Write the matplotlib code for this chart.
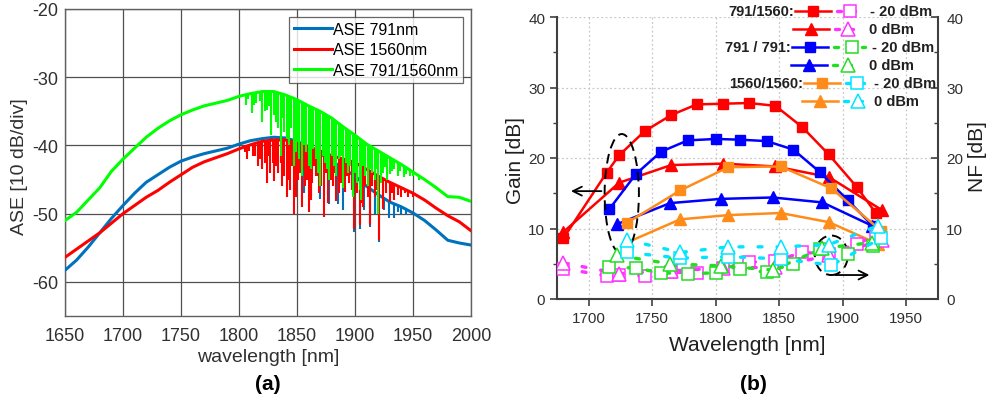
import matplotlib
matplotlib.use("Agg")
import matplotlib.pyplot as plt
from matplotlib.lines import Line2D
from matplotlib.patches import Ellipse
from matplotlib.ticker import MultipleLocator

plt.rcParams['font.family'] = ['Liberation Sans', 'DejaVu Sans']
plt.rcParams['axes.unicode_minus'] = False

# ---------------- (a) ASE spectra ----------------
wl_env = [1650, 1660, 1670, 1680, 1690, 1700, 1710, 1720, 1730, 1740, 1750, 1760, 1770,
          1780, 1790, 1800, 1810, 1820, 1830, 1840, 1850, 1860, 1870, 1880, 1890, 1900,
          1910, 1920, 1930, 1940, 1950, 1960, 1970, 1980, 1990, 2000]
ase_791 = [-58.3, -56.8, -54.9, -52.8, -50.7, -48.8, -47.0, -45.4, -44.3, -43.2, -42.3,
           -41.7, -41.2, -40.8, -40.4, -39.8, -39.3, -39.0, -38.8, -38.9, -39.4, -40.2,
           -41.2, -42.3, -43.4, -44.5, -46.0, -47.2, -48.3, -49.0, -49.9, -51.0, -52.4,
           -53.9, -54.3, -54.6]
ase_1560 = [-56.4, -55.2, -54.0, -52.8, -51.4, -50.0, -48.8, -47.6, -46.6, -45.4, -44.3,
            -43.2, -42.4, -41.8, -41.2, -40.5, -39.9, -39.4, -39.2, -39.2, -39.6, -40.2,
            -40.8, -41.5, -42.0, -42.5, -43.5, -44.5, -45.4, -46.2, -47.0, -48.0, -49.2,
            -50.3, -51.2, -52.5]
ase_dual = [-51.0, -49.8, -48.0, -46.2, -43.8, -42.0, -40.4, -38.8, -37.5, -36.4, -35.5,
            -34.8, -34.2, -33.8, -33.4, -32.8, -32.4, -32.1, -32.1, -32.6, -33.3, -34.2,
            -35.0, -36.0, -37.3, -38.5, -39.8, -40.8, -41.8, -42.8, -43.9, -45.0, -46.2,
            -47.5, -47.6, -48.2]

# absorption dips: wavelength, top of dip, bottom of dip
dip_dual_wl = [1806, 1811, 1815, 1820, 1824, 1828, 1832, 1836, 1839, 1843, 1847, 1850,
               1854, 1858, 1862, 1866, 1870, 1874, 1878, 1882, 1886, 1890, 1894, 1898,
               1902, 1905, 1909, 1913, 1917, 1920, 1924, 1928, 1932, 1937, 1942, 1947,
               1808, 1813, 1818, 1822, 1826, 1830, 1834, 1838, 1841, 1845, 1849, 1852,
               1856, 1860, 1864, 1868, 1872, 1876, 1880, 1884, 1888, 1892, 1896, 1900,
               1904, 1907, 1911, 1915, 1919, 1922, 1926, 1930, 1934, 1939, 1944, 1950, 1955]
dip_dual_top = [-32.6, -32.4, -32.3, -32.1, -32.1, -32.1, -32.2, -32.4, -32.5, -32.8,
                -33.1, -33.3, -33.6, -34.0, -34.4, -34.7, -35.0, -35.4, -35.8, -36.2,
                -36.8, -37.3, -37.8, -38.3, -38.8, -39.2, -39.7, -40.1, -40.5, -40.8,
                -41.2, -41.6, -42.0, -42.5, -43.0, -43.5,
                -32.5, -32.3, -32.2, -32.1, -32.1, -32.1, -32.3, -32.5, -32.7, -32.9,
                -33.2, -33.4, -33.8, -34.2, -34.6, -34.9, -35.2, -35.6, -36.0, -36.5,
                -37.0, -37.5, -38.0, -38.5, -39.0, -39.4, -39.9, -40.3, -40.7, -41.0,
                -41.4, -41.8, -42.2, -42.7, -43.2, -43.9, -44.4]
dip_dual_low = [-34.0, -35.2, -33.8, -36.6, -34.8, -38.5, -36.5, -41.5, -38.0, -40.0,
                -43.0, -39.5, -44.5, -41.0, -43.5, -42.0, -46.0, -42.5, -45.0, -43.0,
                -42.0, -46.3, -44.0, -47.5, -45.5, -48.0, -44.5, -43.5, -45.0, -50.0,
                -44.0, -45.0, -43.8, -44.5, -44.6, -44.5,
                -33.2, -34.0, -33.5, -35.0, -34.2, -35.5, -37.5, -36.0, -39.0, -37.5,
                -41.0, -42.0, -40.0, -43.0, -40.5, -44.0, -41.5, -43.5, -41.5, -44.5,
                -41.5, -42.5, -43.0, -44.0, -46.5, -43.0, -46.0, -44.0, -43.5, -45.5,
                -43.2, -44.2, -43.5, -43.8, -44.2, -44.5, -45.0]

dip_1560_wl = [1807, 1812, 1816, 1820, 1824, 1827, 1830, 1834, 1837, 1841, 1844, 1847,
               1851, 1854, 1857, 1860, 1863, 1866, 1869, 1873, 1877, 1881, 1884, 1888,
               1891, 1895, 1899, 1904, 1907, 1913, 1917, 1921, 1924, 1930, 1934, 1940, 1946,
               1805, 1809, 1814, 1818, 1822, 1826, 1829, 1832, 1836, 1839, 1843, 1846,
               1849, 1853, 1856, 1859, 1862, 1865, 1868, 1871, 1875, 1879, 1883, 1886,
               1890, 1893, 1897, 1902, 1905, 1909, 1911, 1915, 1919, 1927, 1932, 1937,
               1943, 1950]
dip_1560_top = [-39.9, -39.8, -39.6, -39.4, -39.3, -39.3, -39.2, -39.2, -39.2, -39.2,
                -39.3, -39.4, -39.6, -39.8, -40.0, -40.2, -40.4, -40.6, -40.7, -40.9,
                -41.2, -41.4, -41.6, -41.9, -42.1, -42.3, -42.5, -43.0, -43.2, -43.8,
                -44.2, -44.6, -44.9, -45.4, -45.7, -46.2, -46.7,
                -40.0, -39.9, -39.7, -39.5, -39.4, -39.3, -39.2, -39.2, -39.2, -39.2,
                -39.2, -39.3, -39.5, -39.7, -39.9, -40.1, -40.3, -40.5, -40.7, -40.8,
                -41.0, -41.3, -41.5, -41.8, -42.0, -42.2, -42.4, -42.8, -43.1, -43.4,
                -43.6, -44.0, -44.4, -45.1, -45.5, -46.0, -46.4, -47.0]
dip_1560_low = [-42.0, -41.5, -43.0, -43.4, -45.5, -44.0, -45.2, -44.0, -46.0, -47.6,
                -46.5, -50.0, -45.0, -49.0, -46.0, -49.8, -45.5, -44.5, -47.0, -50.5,
                -48.5, -46.0, -48.1, -45.5, -46.8, -45.5, -52.2, -51.7, -49.0, -51.7,
                -47.5, -53.9, -49.3, -48.3, -48.0, -47.6, -47.6,
                -41.0, -40.8, -41.5, -42.0, -42.5, -41.5, -42.5, -43.0, -42.5, -44.5,
                -45.0, -43.0, -47.5, -44.0, -43.5, -45.0, -48.0, -43.0, -44.5, -46.0,
                -44.0, -45.0, -44.0, -47.0, -44.0, -44.5, -46.5, -47.0, -48.5, -46.0,
                -47.5, -46.0, -46.5, -47.0, -47.0, -47.2, -47.0, -47.5]

dip_791_wl = [1856, 1862, 1870, 1878, 1885, 1890, 1899, 1904, 1913, 1921, 1929, 1934,
              1940, 1944, 1908, 1917, 1925, 1937]
dip_791_top = [-40.0, -40.6, -41.2, -42.0, -42.8, -43.4, -44.4, -45.1, -46.3, -47.3,
               -48.2, -48.6, -49.0, -49.4, -45.6, -46.8, -47.7, -48.8]
dip_791_low = [-47.0, -47.5, -47.8, -48.6, -48.6, -49.5, -52.7, -52.2, -52.0, -54.2,
               -50.7, -50.7, -50.0, -50.2, -49.5, -50.0, -49.5, -49.8]

# ---------------- (b) gain / NF ----------------
wl_rs = [1680, 1714, 1724, 1744, 1765, 1785, 1806, 1826, 1847, 1868, 1889, 1911, 1926]
gain_rs = [8.6, 17.9, 20.4, 23.8, 26.1, 27.6, 27.7, 27.8, 27.4, 24.4, 20.5, 15.9, 12.2]
nf_rs = [4.3, 3.3, 3.4, 3.3, 3.8, 3.7, 4.4, 5.2, 5.4, 6.6, 6.4, 7.8, 9.0]

wl_rt = [1680, 1724, 1765, 1806, 1847, 1889, 1931]
gain_rt = [9.5, 16.5, 19.0, 19.2, 18.8, 17.3, 12.6]
nf_rt = [5.1, 3.6, 4.0, 4.4, 4.5, 6.2, 8.3]

wl_bs = [1716, 1737, 1757, 1778, 1800, 1819, 1840, 1861, 1882, 1904, 1924]
gain_bs = [12.7, 17.7, 20.9, 22.5, 22.7, 22.6, 22.4, 21.2, 18.0, 14.0, 10.3]
nf_bs = [4.5, 4.4, 3.7, 3.6, 3.7, 4.2, 3.8, 5.0, 7.1, 6.4, 7.5]

wl_bt = [1722, 1764, 1804, 1845, 1884, 1923]
gain_bt = [10.6, 13.6, 14.2, 14.4, 13.7, 10.4]
nf_bt = [6.2, 5.0, 4.7, 4.1, 7.2, 8.0]

wl_os = [1730, 1772, 1810, 1851, 1891, 1930]
gain_os = [10.8, 15.4, 18.7, 18.8, 15.7, 9.7]
nf_os = [6.6, 5.8, 6.0, 5.7, 4.8, 8.6]

wl_ot = [1730, 1772, 1810, 1851, 1889, 1928]
gain_ot = [8.0, 11.3, 11.9, 12.2, 10.9, 7.8]
nf_ot = [8.4, 6.6, 7.4, 7.4, 7.7, 10.4]

C_RED, C_BLUE, C_ORANGE = '#FF0000', '#0000FF', '#FF8C1A'
C_MAG, C_GRN, C_CYAN = '#FF33FF', '#22DD22', '#00E5FF'

W, H = 990, 410
fig = plt.figure(figsize=(9.9, 4.1), dpi=100)


def px_rect(l, t, r, b):
    return [l / W, 1 - b / H, (r - l) / W, (b - t) / H]


# ---------- panel (a) ----------
axa = fig.add_axes(px_rect(65, 10, 471, 317))
axa.set_xlim(1650, 2000)
axa.set_ylim(-65, -20)
axa.set_xticks(range(1650, 2001, 50))
axa.set_yticks([-60, -50, -40, -30, -20])
axa.grid(True, color='#505050', lw=0.9)
axa.set_axisbelow(True)
for sp in axa.spines.values():
    sp.set_color('#606060')
    sp.set_linewidth(1.0)
axa.tick_params(direction='in', length=0, labelsize=13, colors='#303030', pad=8)
axa.tick_params(axis='y', pad=5)

axa.plot(wl_env, ase_791, color='#0072BD', lw=2.2, zorder=3, label='ASE 791nm')
axa.vlines(dip_791_wl, dip_791_low, dip_791_top, color='#0072BD', lw=1.5, zorder=3)
axa.plot(wl_env, ase_1560, color=C_RED, lw=2.2, zorder=4, label='ASE 1560nm')
axa.vlines(dip_1560_wl, dip_1560_low, dip_1560_top, color=C_RED, lw=1.5, zorder=4)
axa.plot(wl_env, ase_dual, color='#00FF00', lw=2.2, zorder=5, label='ASE 791/1560nm')
axa.vlines(dip_dual_wl, dip_dual_low, dip_dual_top, color='#00FF00', lw=1.5, zorder=5)

leg = axa.legend(loc='upper right', fontsize=11.5, frameon=True, fancybox=False,
                 borderaxespad=0.5, handlelength=2.4, handletextpad=0.05,
                 borderpad=0.3, labelspacing=0.35)
leg.get_frame().set_edgecolor('#404040')
leg.get_frame().set_linewidth(0.9)

axa.set_xlabel('wavelength [nm]', fontsize=14, color='#303030')
axa.set_ylabel('ASE [10 dB/div]', fontsize=14, color='#303030')
axa.xaxis.set_label_coords(0.501, -0.105)
axa.yaxis.set_label_coords(-0.092, 0.49)

# ---------- panel (b) ----------
axb = fig.add_axes(px_rect(557, 18, 938, 300))
axb.set_xlim(1675, 1975)
axb.set_ylim(0, 40)
axb.set_xticks(range(1700, 1951, 50))
axb.set_yticks(range(0, 41, 10))
axb.yaxis.set_minor_locator(MultipleLocator(5))
axb.grid(True, which='major', color='#c8c8c8', ls=(0, (1.5, 2)), lw=0.9)
axb.set_axisbelow(True)
axb.spines['top'].set_visible(False)
axb.spines['right'].set_visible(False)
for s in ('left', 'bottom'):
    axb.spines[s].set_color('#404040')
    axb.spines[s].set_linewidth(1.5)
axb.tick_params(which='major', direction='out', length=5, width=1.2,
                labelsize=11, colors='#404040', labelcolor='#303030')
axb.tick_params(which='minor', direction='out', length=3, width=1.0, colors='#404040')

ax2 = axb.twinx()
ax2.set_ylim(0, 40)
ax2.set_yticks(range(0, 41, 10))
ax2.yaxis.set_minor_locator(MultipleLocator(5))
for s in ('top', 'left', 'bottom'):
    ax2.spines[s].set_visible(False)
ax2.spines['right'].set_color('#404040')
ax2.spines['right'].set_linewidth(1.5)
ax2.tick_params(which='major', direction='in', length=5, width=1.2,
                labelsize=11, colors='#404040', labelcolor='#303030', pad=6)
ax2.tick_params(which='minor', direction='in', length=3, width=1.0, colors='#404040')

gkw = dict(lw=1.8, markersize=7.5)
axb.plot(wl_rs, gain_rs, color=C_RED, marker='s', **gkw)
axb.plot(wl_rt, gain_rt, color=C_RED, marker='^', lw=1.8, markersize=9)
axb.plot(wl_bs, gain_bs, color=C_BLUE, marker='s', **gkw)
axb.plot(wl_bt, gain_bt, color=C_BLUE, marker='^', lw=1.8, markersize=9)
axb.plot(wl_os, gain_os, color=C_ORANGE, marker='s', **gkw)
axb.plot(wl_ot, gain_ot, color=C_ORANGE, marker='^', lw=1.8, markersize=9)

nls = (0, (1.2, 4.5))
nkw = dict(lw=2.4, ls=nls, dash_capstyle='round', markerfacecolor='white', markeredgewidth=1.1)
ax2.plot(wl_rs, nf_rs, color=C_MAG, marker='s', markersize=8, **nkw)
ax2.plot(wl_rt, nf_rt, color=C_MAG, marker='^', markersize=9.5, **nkw)
ax2.plot(wl_bs, nf_bs, color=C_GRN, marker='s', markersize=8, **nkw)
ax2.plot(wl_bt, nf_bt, color=C_GRN, marker='^', markersize=9.5, **nkw)
ax2.plot(wl_os, nf_os, color=C_CYAN, marker='s', markersize=8, **nkw)
ax2.plot(wl_ot, nf_ot, color=C_CYAN, marker='^', markersize=9.5, **nkw)

# guide ellipses and arrows
axb.add_patch(Ellipse((1726, 14.9), 27, 17, fill=False, ls=(0, (5, 3)), lw=1.4, color='black', zorder=6))
axb.add_patch(Ellipse((1891, 6.2), 26, 5.6, fill=False, ls=(0, (5, 3)), lw=1.4, color='black', zorder=6))
axb.annotate('', xy=(1686, 15.3), xytext=(1710, 15.3),
             arrowprops=dict(arrowstyle='->', lw=1.3, color='black', mutation_scale=16,
                             shrinkA=0, shrinkB=0))
axb.annotate('', xy=(1921, 3.4), xytext=(1894, 3.4), annotation_clip=False,
             arrowprops=dict(arrowstyle='->', lw=1.3, color='black', mutation_scale=16,
                             shrinkA=0, shrinkB=0))

axb.set_xlabel('Wavelength [nm]', fontsize=15, color='#202020')
axb.set_ylabel('Gain [dB]', fontsize=15, color='#202020')
ax2.set_ylabel('NF [dB]', fontsize=15, color='#202020')
axb.xaxis.set_label_coords(0.499, -0.128)
axb.yaxis.set_label_coords(-0.085, 0.496)
ax2.yaxis.set_label_coords(1.08, 0.51)

# custom legend for panel (b)
def fx(x):
    return x / W


def fy(y):
    return 1 - y / H


legend_rows = [
    # y, group label, filled x, open x, text x, gain color, nf color, marker, text
    (12, '791/1560:', 813, 850, 870, C_RED, C_MAG, 's', '- 20 dBm'),
    (30, None, 811, 848, 869, C_RED, C_MAG, '^', '0 dBm'),
    (48, '791 / 791:', 810, 852, 872, C_BLUE, C_GRN, 's', '- 20 dBm'),
    (66, None, 809, 848, 869, C_BLUE, C_GRN, '^', '0 dBm'),
    (84, '1560/1560:', 822, 857, 874, C_ORANGE, C_CYAN, 's', '- 20 dBm'),
    (102, None, 820, 858, 874, C_ORANGE, C_CYAN, '^', '0 dBm'),
]
for (yy, grp, xf, xo, xt, cg, cn, mk, txt) in legend_rows:
    ms_f = 7.5 if mk == 's' else 9
    ms_o = 8 if mk == 's' else 9.5
    fig.add_artist(Line2D([fx(xf - 18), fx(xf + 18)], [fy(yy), fy(yy)], color=cg, lw=1.8,
                          transform=fig.transFigure))
    fig.add_artist(Line2D([fx(xf)], [fy(yy)], color=cg, marker=mk, markersize=ms_f,
                          transform=fig.transFigure))
    fig.add_artist(Line2D([fx(xf + 24), fx(xo + 13)], [fy(yy), fy(yy)], color=cn, lw=2.4,
                          ls=(0, (1.2, 3.0)), dash_capstyle='round', transform=fig.transFigure))
    fig.add_artist(Line2D([fx(xo)], [fy(yy)], color=cn, marker=mk, markersize=ms_o,
                          markerfacecolor='white', markeredgewidth=1.1,
                          transform=fig.transFigure))
    fig.text(fx(xt), fy(yy), txt, fontsize=10.5, fontweight='bold', color='#202020',
             ha='left', va='center')
    if grp:
        fig.text(fx(xf - 19), fy(yy), grp, fontsize=10.5, fontweight='bold', color='#202020',
                 ha='right', va='center')

fig.text(268 / W, fy(385), '(a)', fontsize=15, fontweight='bold', ha='center', va='center')
fig.text(753 / W, fy(385), '(b)', fontsize=15, fontweight='bold', ha='center', va='center')

fig.savefig('out.png', dpi=100)
